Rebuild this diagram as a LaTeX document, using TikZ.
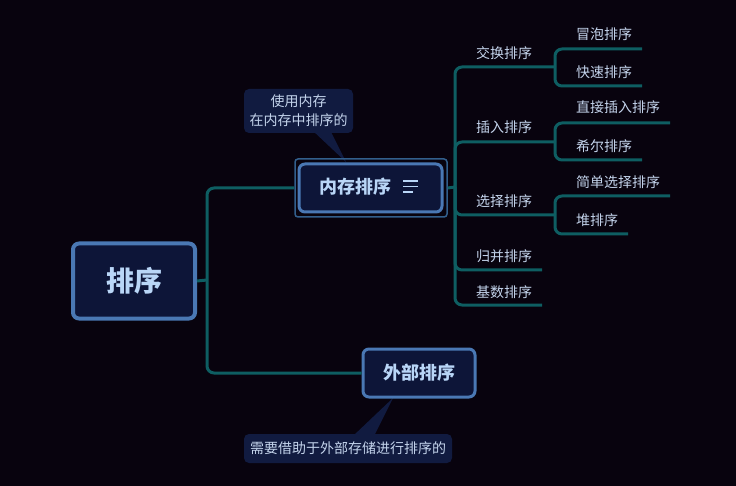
\documentclass[tikz,border=0pt]{standalone}
\usepackage{fontspec}
\setmainfont{Noto Sans CJK SC}
\newfontfamily\cjk{Noto Sans CJK SC}
\definecolor{bgc}{RGB}{8,3,14}
\definecolor{boxfill}{RGB}{13,21,56}
\definecolor{boxline}{RGB}{74,120,180}
\definecolor{frameline}{RGB}{50,95,140}
\definecolor{conn}{RGB}{14,94,98}
\definecolor{maintext}{RGB}{185,214,247}
\definecolor{subtext}{RGB}{196,212,236}
\definecolor{calfill}{RGB}{17,27,64}
\tikzset{
  mainbox/.style={draw=boxline, fill=boxfill, rounded corners=6pt, text=maintext, font=\cjk\bfseries},
  connline/.style={draw=conn, line width=3pt, rounded corners=7pt},
  leaf/.style={anchor=west, text=subtext, font=\cjk\fontsize{14}{16}\selectfont, inner sep=0pt},
  callout/.style={fill=calfill, rounded corners=5pt, text=subtext, font=\cjk\fontsize{14}{19}\selectfont, align=center},
}
\begin{document}
\begin{tikzpicture}[x=1pt,y=-1pt]
\fill[bgc] (0,0) rectangle (736,486);
\useasboundingbox (0,0) rectangle (736,486);

% callout pointers
\fill[calfill] (312,130) -- (330,130) -- (346,162) -- cycle;
\fill[calfill] (353,436) -- (374,436) -- (393,398) -- cycle;

% callouts
\node[callout, minimum width=109pt, minimum height=44pt] (c1) at (298.5,111) {使用内存\\在内存中排序的};
\node[callout, minimum width=208pt, minimum height=29pt] (c2) at (348,448.5) {需要借助于外部存储进行排序的};

% root
\node[mainbox, line width=4pt, minimum width=122pt, minimum height=75pt, font=\cjk\bfseries\fontsize{28}{32}\selectfont] (root) at (134,281) {排序};

% 内存排序 frame + box
\node[draw=frameline, line width=1.5pt, rounded corners=3pt, minimum width=152pt, minimum height=58pt] (ncf) at (371,188) {};
\node[mainbox, line width=3pt, minimum width=143pt, minimum height=48pt] (nc) at (370.5,188) {};
\node[text=maintext, font=\cjk\bfseries\fontsize{18}{21}\selectfont] (nct) at (355,187) {内存排序};
\draw[maintext, line width=1.2pt] (403,181) -- (418,181) (403,186.5) -- (418,186.5) (403,192) -- (413,192);

% 外部排序
\node[mainbox, line width=3pt, minimum width=112pt, minimum height=48pt, font=\cjk\bfseries\fontsize{18}{21}\selectfont] (wb) at (419,373) {外部排序};

% level 1 connectors
\coordinate (j0) at (207,280);
\draw[connline] (root.east) -- (j0);
\draw[connline] (j0) |- (ncf.west);
\draw[connline] (j0) |- (wb.west);

% right bracket
\coordinate (k0) at (455,187);
\draw[connline] (ncf.east) -- (k0);

% level 2 labels
\node[leaf] (a1) at (476,53) {交换排序};
\node[leaf] (a2) at (476,127) {插入排序};
\node[leaf] (a3) at (476,201) {选择排序};
\node[leaf] (a4) at (476,256) {归并排序};
\node[leaf] (a5) at (476,292) {基数排序};

\coordinate (s1) at (555,67);
\coordinate (s2) at (555,142);
\coordinate (s3) at (555,215);
\coordinate (e4) at (542,270);
\coordinate (e5) at (542,305);
\draw[connline] (k0) |- (s1);
\draw[connline] (k0) |- (s2);
\draw[connline] (k0) |- (s3);
\draw[connline] (k0) |- (e4);
\draw[connline] (k0) |- (e5);

% level 3 labels
\node[leaf] (b1) at (576,34) {冒泡排序};
\node[leaf] (b2) at (576,72) {快速排序};
\node[leaf] (b3) at (576,107) {直接插入排序};
\node[leaf] (b4) at (576,146) {希尔排序};
\node[leaf] (b5) at (576,182) {简单选择排序};
\node[leaf] (b6) at (576,220) {堆排序};

\coordinate (f1) at (642,49);
\coordinate (f2) at (642,86);
\coordinate (f3) at (670,123);
\coordinate (f4) at (642,160);
\coordinate (f5) at (670,196);
\coordinate (f6) at (628,234);
\draw[connline] (s1) |- (f1);
\draw[connline] (s1) |- (f2);
\draw[connline] (s2) |- (f3);
\draw[connline] (s2) |- (f4);
\draw[connline] (s3) |- (f5);
\draw[connline] (s3) |- (f6);
\end{tikzpicture}
\end{document}
